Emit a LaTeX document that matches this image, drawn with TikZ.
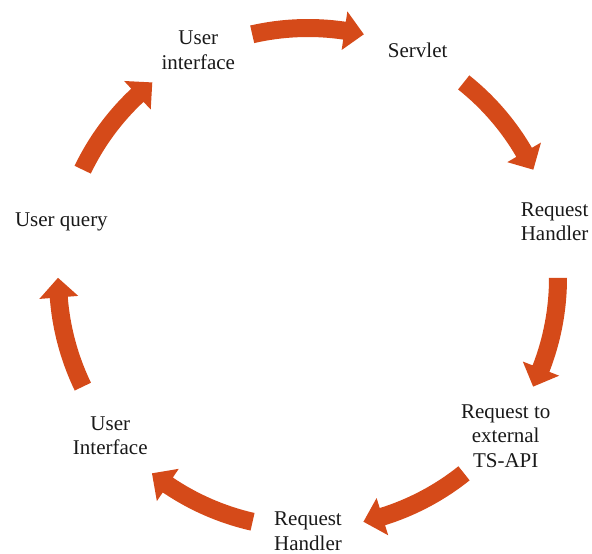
\documentclass[tikz,border=0pt]{standalone}
\usepackage{fontspec}
\setmainfont{Liberation Serif}
\definecolor{cyclearrow}{RGB}{213,74,25}
\tikzset{
  steplabel/.style={font=\fontsize{21}{24.5}\selectfont, align=center, text=black!90, inner sep=0pt},
  cyclearrowfill/.style={fill=cyclearrow, draw=none}
}
\begin{document}
\begin{tikzpicture}[x=1pt,y=1pt]
\useasboundingbox (0,0) rectangle (592,554);
\begin{scope}[shift={(308,276)}]
  % step labels on the outer circle
  \node[steplabel] (ui1)  at (115.7:253) {User\\interface};
  \node[steplabel] (srv)  at (64.3:253)  {Servlet};
  \node[steplabel] (rh1)  at (12.9:253)  {Request\\Handler};
  \node[steplabel] (rext) at (-38.6:253) {Request to\\external\\TS-API};
  \node[steplabel] (rh2)  at (-90:253)   {Request\\Handler};
  \node[steplabel] (ui2)  at (-141.4:253) {User\\Interface};
  \node[steplabel] (uq)   at (167.1:253) {User query};
  % curved block arrows, clockwise, between consecutive labels
  \foreach \i in {0,...,6}{
    \pgfmathsetmacro{\m}{90-\i*51.4286}
    \pgfmathsetmacro{\aa}{\m+12.9}
    \pgfmathsetmacro{\tp}{\m-12.9}
    \pgfmathsetmacro{\hb}{\m-12.9+4.5}
    \fill[cyclearrowfill]
      (\aa:259) arc[start angle=\aa, end angle=\hb, radius=259]
      -- (\hb:269.5) -- (\tp:250) -- (\hb:230.5) -- (\hb:241)
      arc[start angle=\hb, end angle=\aa, radius=241] -- cycle;
  }
\end{scope}
\end{tikzpicture}
\end{document}
